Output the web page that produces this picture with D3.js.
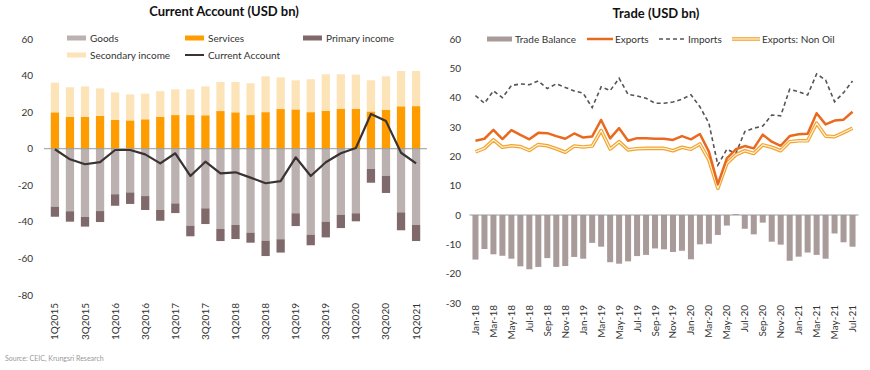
<!DOCTYPE html>
<html lang="en">
<head>
<meta charset="utf-8">
<script src="https://d3js.org/d3.v7.min.js"></script>
<title>Current Account and Trade</title>
<style>
    body { margin: 0; background: #fff; }
    svg text { font-family: Lato, "Open Sans", sans-serif; fill: #333; }
    .title { font-weight: bold; font-size: 13px; fill: #111; }
    .tick-label { font-size: 10px; }
    .legend-text { font-size: 10px; }
</style>
</head>
<body>
<svg id="chart" width="870" height="370"></svg>
<script>
    // ---- Current account (quarterly) ----
    const quarters = ["1Q2015","2Q2015","3Q2015","4Q2015","1Q2016","2Q2016","3Q2016","4Q2016",
        "1Q2017","2Q2017","3Q2017","4Q2017","1Q2018","2Q2018","3Q2018","4Q2018",
        "1Q2019","2Q2019","3Q2019","4Q2019","1Q2020","2Q2020","3Q2020","4Q2020","1Q2021"];
    const quarterTicks = ["1Q2015","3Q2015","1Q2016","3Q2016","1Q2017","3Q2017","1Q2018",
        "3Q2018","1Q2019","3Q2019","1Q2020","3Q2020","1Q2021"];
    const goods = [-31.7,-34.2,-37.3,-34.1,-24.9,-23.9,-25.9,-33.5,-29.9,-42.1,-32.6,-43.9,-41.7,
        -45.9,-50.3,-49.5,-35.3,-47.0,-39.9,-36.1,-35.3,-11.1,-14.8,-34.8,-41.7];
    const primaryIncome = [-5.5,-5.7,-5.3,-6.0,-6.3,-6.3,-7.6,-5.9,-5.3,-5.8,-8.6,-6.6,-7.7,
        -5.5,-8.4,-7.3,-7.0,-5.8,-8.6,-7.3,-4.4,-7.5,-9.4,-9.8,-8.8];
    const services = [19.9,17.5,17.5,17.9,15.7,15.5,16.1,17.5,18.4,18.4,18.3,20.6,19.9,
        18.4,20.0,21.7,21.5,20.0,20.8,21.9,21.9,20.4,21.2,23.2,23.3];
    const secondaryIncome = [16.2,16.1,16.6,15.1,15.1,14.2,14.0,14.0,14.1,14.1,15.8,15.9,16.6,
        17.4,19.6,17.3,15.9,18.0,19.9,18.8,18.6,17.0,18.4,19.3,19.2];
    const currentAccount = [-0.3,-5.8,-8.5,-7.3,-0.7,-0.7,-3.1,-8.0,-2.5,-14.9,-7.1,-13.5,-12.9,
        -15.8,-18.9,-17.7,-4.7,-14.9,-7.4,-2.5,0.4,19.0,15.1,-2.2,-8.0];
    const caTicks = [60, 40, 20, 0, -20, -40, -60, -80];

    // ---- Trade (monthly) ----
    const months = ["Jan-18","Feb-18","Mar-18","Apr-18","May-18","Jun-18","Jul-18","Aug-18","Sep-18","Oct-18","Nov-18","Dec-18",
        "Jan-19","Feb-19","Mar-19","Apr-19","May-19","Jun-19","Jul-19","Aug-19","Sep-19","Oct-19","Nov-19","Dec-19",
        "Jan-20","Feb-20","Mar-20","Apr-20","May-20","Jun-20","Jul-20","Aug-20","Sep-20","Oct-20","Nov-20","Dec-20",
        "Jan-21","Feb-21","Mar-21","Apr-21","May-21","Jun-21","Jul-21"];
    const monthTicks = ["Jan-18","Mar-18","May-18","Jul-18","Sep-18","Nov-18","Jan-19","Mar-19","May-19","Jul-19","Sep-19",
        "Nov-19","Jan-20","Mar-20","May-20","Jul-20","Sep-20","Nov-20","Jan-21","Mar-21","May-21","Jul-21"];
    const tradeBalance = [-15.2,-11.6,-13.4,-13.9,-14.9,-17.5,-18.5,-17.7,-14.7,-17.7,-17.4,-14.3,-14.9,-9.5,-10.8,
        -16.1,-16.6,-15.8,-14.0,-13.6,-11.4,-11.7,-12.6,-12.2,-15.1,-10.0,-9.8,-6.8,-3.6,0.3,-4.7,-6.6,-2.6,
        -9.1,-10.1,-15.6,-14.2,-12.8,-13.6,-14.9,-6.3,-9.3,-10.8];
    const exportsAll = [25.3,26.0,29.0,25.9,28.9,27.3,25.8,28.0,27.9,26.9,26.0,27.8,26.4,26.8,32.4,26.1,29.6,25.3,
        26.2,26.2,26.0,26.0,25.6,26.9,25.8,27.6,21.6,10.5,19.3,22.4,23.5,22.7,27.4,25.0,23.6,26.9,27.5,27.7,
        34.7,30.9,32.2,32.5,35.2];
    const imports = [40.7,38.1,42.3,40.0,44.1,44.7,44.4,45.7,43.1,44.7,43.5,42.3,41.5,36.6,43.7,42.4,46.6,41.1,
        40.6,39.8,38.1,38.1,38.5,39.5,41.0,36.9,31.3,17.0,22.4,21.0,28.4,29.6,30.3,34.1,33.8,42.9,42.0,40.9,
        48.1,46.0,38.6,41.7,45.7];
    const exportsNonOil = [21.5,22.7,25.6,23.1,23.6,23.3,22.0,24.0,23.6,22.6,21.4,23.5,23.2,23.5,28.8,22.5,25.0,22.2,
        22.6,22.7,22.7,22.7,21.9,23.1,22.4,24.2,18.8,9.1,17.6,20.5,21.9,21.0,23.9,23.1,21.9,25.0,25.3,25.3,
        31.3,26.9,26.7,28.1,29.6];
    const tradeTicks = [60, 50, 40, 30, 20, 10, 0, -10, -20, -30];

    const colors = {
        goods: "#bcb1b1",
        primary: "#80696a",
        services: "#ff9d00",
        secondary: "#fde4b8",
        ca: "#3b3232",
        balance: "#aa9b9b",
        exports: "#e9691f",
        imports: "#555555",
        nonOil: "#f2a431"
    };

    const svg = d3.select("#chart");

    // ================= Left chart =================
    const xL = d3.scaleBand().domain(quarters).range([44, 427]).padding(0.45);
    const yL = d3.scaleLinear().domain([-80, 60]).range([295, 39]);
    const left = svg.append("g");

    left.append("text").attr("class", "title")
        .attr("x", 224).attr("y", 16).attr("text-anchor", "middle")
        .text("Current Account (USD bn)");

    left.selectAll(".ytick").data(caTicks).enter().append("text")
        .attr("class", "tick-label")
        .attr("x", 33).attr("y", d => yL(d)).attr("dy", "0.35em")
        .attr("text-anchor", "end")
        .text(d => d);

    const rows = quarters.map((q, i) => ({
        q, goods: goods[i], primary: primaryIncome[i], services: services[i], secondary: secondaryIncome[i]
    }));

    // negative stack: goods then primary income below it
    left.selectAll(".goods").data(rows).enter().append("rect")
        .attr("x", d => xL(d.q)).attr("width", xL.bandwidth())
        .attr("y", yL(0)).attr("height", d => yL(d.goods) - yL(0))
        .attr("fill", colors.goods);
    left.selectAll(".primary").data(rows).enter().append("rect")
        .attr("x", d => xL(d.q)).attr("width", xL.bandwidth())
        .attr("y", d => yL(d.goods)).attr("height", d => yL(d.goods + d.primary) - yL(d.goods))
        .attr("fill", colors.primary);
    // positive stack: services then secondary income
    left.selectAll(".services").data(rows).enter().append("rect")
        .attr("x", d => xL(d.q)).attr("width", xL.bandwidth())
        .attr("y", d => yL(d.services)).attr("height", d => yL(0) - yL(d.services))
        .attr("fill", colors.services);
    left.selectAll(".secondary").data(rows).enter().append("rect")
        .attr("x", d => xL(d.q)).attr("width", xL.bandwidth())
        .attr("y", d => yL(d.services + d.secondary)).attr("height", d => yL(d.services) - yL(d.services + d.secondary))
        .attr("fill", colors.secondary);

    left.append("line")
        .attr("x1", 44).attr("x2", 427).attr("y1", yL(0)).attr("y2", yL(0))
        .attr("stroke", "#9a9a9a").attr("stroke-width", 1);

    const caLine = d3.line()
        .x((d, i) => xL(quarters[i]) + xL.bandwidth() / 2)
        .y(d => yL(d));
    left.append("path").datum(currentAccount)
        .attr("d", caLine).attr("fill", "none")
        .attr("stroke", colors.ca).attr("stroke-width", 2.2).attr("stroke-linejoin", "round");

    left.selectAll(".xlab").data(quarterTicks).enter().append("text")
        .attr("class", "tick-label")
        .attr("transform", d => `translate(${xL(d) + xL.bandwidth() / 2 + 3.5},303) rotate(-90)`)
        .attr("text-anchor", "end")
        .text(d => d);

    // legend
    const legL = [
        { label: "Goods", color: colors.goods, type: "rect", x: 67, y: 38 },
        { label: "Services", color: colors.services, type: "rect", x: 185, y: 38 },
        { label: "Primary income", color: colors.primary, type: "rect", x: 303, y: 38 },
        { label: "Secondary income", color: colors.secondary, type: "rect", x: 67, y: 55 },
        { label: "Current Account", color: colors.ca, type: "line", x: 185, y: 55 }
    ];
    const lg = left.selectAll(".leg").data(legL).enter().append("g");
    lg.filter(d => d.type === "rect").append("rect")
        .attr("x", d => d.x).attr("y", d => d.y - 2.5).attr("width", 19).attr("height", 5)
        .attr("fill", d => d.color);
    lg.filter(d => d.type === "line").append("line")
        .attr("x1", d => d.x).attr("x2", d => d.x + 19).attr("y1", d => d.y).attr("y2", d => d.y)
        .attr("stroke", d => d.color).attr("stroke-width", 2);
    lg.append("text").attr("class", "legend-text")
        .attr("x", d => d.x + 23).attr("y", d => d.y).attr("dy", "0.35em")
        .text(d => d.label);

    // ================= Right chart =================
    const xR = d3.scaleBand().domain(months).range([469.5, 858.5]).padding(0.33);
    const yR = d3.scaleLinear().domain([-30, 60]).range([303, 39]);
    const right = svg.append("g");
    const cx = m => xR(m) + xR.bandwidth() / 2;

    right.append("text").attr("class", "title")
        .attr("x", 656).attr("y", 18).attr("text-anchor", "middle")
        .text("Trade (USD bn)");

    right.selectAll(".ytick").data(tradeTicks).enter().append("text")
        .attr("class", "tick-label")
        .attr("x", 461).attr("y", d => yR(d)).attr("dy", "0.35em")
        .attr("text-anchor", "end")
        .text(d => d);

    right.selectAll(".bal").data(tradeBalance).enter().append("rect")
        .attr("x", (d, i) => xR(months[i])).attr("width", xR.bandwidth())
        .attr("y", d => yR(Math.max(0, d))).attr("height", d => Math.abs(yR(d) - yR(0)))
        .attr("fill", colors.balance);

    right.append("line")
        .attr("x1", 469.5).attr("x2", 858.5).attr("y1", yR(0)).attr("y2", yR(0))
        .attr("stroke", "#9a9a9a").attr("stroke-width", 1);

    const tLine = d3.line().x((d, i) => cx(months[i])).y(d => yR(d));

    right.append("path").datum(imports)
        .attr("d", tLine).attr("fill", "none")
        .attr("stroke", colors.imports).attr("stroke-width", 1.6).attr("stroke-dasharray", "4,3");
    // compound (double) line for non-oil exports
    right.append("path").datum(exportsNonOil)
        .attr("d", tLine).attr("fill", "none")
        .attr("stroke", colors.nonOil).attr("stroke-width", 3.6).attr("stroke-linejoin", "round");
    right.append("path").datum(exportsNonOil)
        .attr("d", tLine).attr("fill", "none")
        .attr("stroke", "#fff4dc").attr("stroke-width", 1.2).attr("stroke-linejoin", "round");
    right.append("path").datum(exportsAll)
        .attr("d", tLine).attr("fill", "none")
        .attr("stroke", colors.exports).attr("stroke-width", 2.5).attr("stroke-linejoin", "round");

    right.selectAll(".xlab").data(monthTicks).enter().append("text")
        .attr("class", "tick-label")
        .attr("transform", d => `translate(${cx(d) + 3.5},305) rotate(-90)`)
        .attr("text-anchor", "end")
        .text(d => d);

    // legend
    const ly = 39;
    right.append("rect").attr("x", 487).attr("y", ly - 2.5).attr("width", 25).attr("height", 5)
        .attr("fill", colors.balance);
    right.append("text").attr("class", "legend-text").attr("x", 515).attr("y", ly).attr("dy", "0.35em")
        .text("Trade Balance");
    right.append("line").attr("x1", 587).attr("x2", 613).attr("y1", ly).attr("y2", ly)
        .attr("stroke", colors.exports).attr("stroke-width", 2.5);
    right.append("text").attr("class", "legend-text").attr("x", 615).attr("y", ly).attr("dy", "0.35em")
        .text("Exports");
    right.append("line").attr("x1", 659).attr("x2", 687).attr("y1", ly).attr("y2", ly)
        .attr("stroke", colors.imports).attr("stroke-width", 1.6).attr("stroke-dasharray", "4,3");
    right.append("text").attr("class", "legend-text").attr("x", 688).attr("y", ly).attr("dy", "0.35em")
        .text("Imports");
    right.append("line").attr("x1", 732).attr("x2", 760).attr("y1", ly).attr("y2", ly)
        .attr("stroke", colors.nonOil).attr("stroke-width", 3.6);
    right.append("line").attr("x1", 732).attr("x2", 760).attr("y1", ly).attr("y2", ly)
        .attr("stroke", "#fff4dc").attr("stroke-width", 1.2);
    right.append("text").attr("class", "legend-text").attr("x", 762).attr("y", ly).attr("dy", "0.35em")
        .text("Exports: Non Oil");

    // source note
    svg.append("text")
        .attr("x", 5).attr("y", 361)
        .style("font-size", "7px").style("fill", "#999")
        .text("Source: CEIC, Krungsri Research");
</script>
</body>
</html>
